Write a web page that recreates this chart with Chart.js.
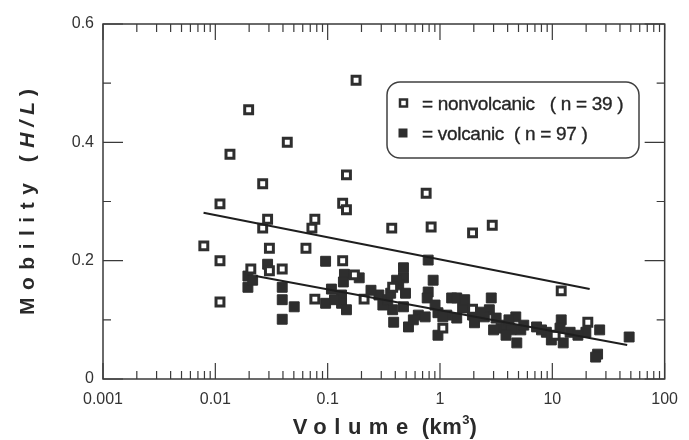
<!DOCTYPE html>
<html><head><meta charset="utf-8">
<script src="https://cdn.jsdelivr.net/npm/chart.js"></script>
<style>html,body{margin:0;padding:0;background:#fff}#wrap{width:689px;height:440px;position:relative}</style>
</head><body><div id="wrap"><canvas id="c" width="689" height="440"></canvas></div>
<script>
// ---- data ----
const xTickValues = [0.001, 0.01, 0.1, 1, 10, 100];
const xTickLabels = ['0.001', '0.01', '0.1', '1', '10', '100'];
const yTickValues = [0, 0.2, 0.4, 0.6];
const yTickLabels = ['0', '0.2', '0.4', '0.6'];
const yMinorValues = [0.1, 0.3, 0.5];
const seriesNames = ['nonvolcanic', 'volcanic'];
const seriesCounts = [39, 97];
const xTitle = 'Volume';
const xUnit = 'km';
const yTitle = 'Mobility';
const yUnit = 'H/L';

const nonVolcanicVolume = [0.0079, 0.011, 0.011, 0.011, 0.0135, 0.0198, 0.0207, 0.0264, 0.0292, 0.0264, 0.0303, 0.0303, 0.0394, 0.0437, 0.0641, 0.0769, 0.0724, 0.0769, 0.136, 0.147, 0.147, 0.136, 0.173, 0.211, 0.179, 0.372, 0.379, 0.753, 0.834, 1.06, 1.95, 1.95, 2.92, 12.0, 20.7, 10.6];
const nonVolcanicMobility = [0.225, 0.296, 0.200, 0.130, 0.380, 0.455, 0.186, 0.330, 0.270, 0.255, 0.221, 0.183, 0.186, 0.400, 0.221, 0.270, 0.255, 0.135, 0.297, 0.286, 0.345, 0.200, 0.176, 0.135, 0.505, 0.255, 0.155, 0.314, 0.257, 0.086, 0.247, 0.118, 0.260, 0.149, 0.096, 0.074];

const volcanicVolume = [0.0195, 0.0195, 0.0215, 0.0292, 0.0394, 0.0394, 0.0504, 0.0394, 0.0959, 0.108, 0.0959, 0.141, 0.138, 0.191, 0.133, 0.133, 0.147, 0.286, 0.310, 0.343, 0.379, 0.387, 0.524, 0.473, 0.473, 0.429, 0.493, 0.473, 0.411, 0.364, 0.785, 0.869, 0.785, 0.769, 0.641, 0.738, 0.959, 1.15, 1.06, 1.27, 1.41, 1.41, 0.959, 1.95, 2.03, 2.86, 2.75, 2.48, 3.16, 3.50, 3.87, 4.29, 4.73, 4.83, 5.24, 3.87, 7.24, 8.85, 9.80, 12.0, 11.7, 14.4, 12.5, 19.9, 26.4, 25.3, 24.3, 48.3, 1.59, 4.11, 5.57, 8.01, 16.9, 1.66, 2.24, 0.904, 0.579, 0.243, 0.115, 3.0];
const volcanicMobility = [0.174, 0.155, 0.167, 0.194, 0.155, 0.134, 0.122, 0.101, 0.199, 0.152, 0.128, 0.177, 0.164, 0.171, 0.142, 0.128, 0.117, 0.142, 0.125, 0.134, 0.117, 0.096, 0.088, 0.188, 0.171, 0.159, 0.145, 0.122, 0.167, 0.145, 0.201, 0.167, 0.147, 0.137, 0.108, 0.105, 0.112, 0.108, 0.105, 0.137, 0.137, 0.103, 0.074, 0.108, 0.095, 0.137, 0.117, 0.105, 0.103, 0.086, 0.091, 0.083, 0.105, 0.061, 0.083, 0.074, 0.088, 0.079, 0.066, 0.100, 0.086, 0.079, 0.061, 0.079, 0.083, 0.042, 0.037, 0.071, 0.120, 0.100, 0.091, 0.083, 0.074, 0.134, 0.113, 0.125, 0.100, 0.150, 0.134, 0.083];

const trendNonVolcanicVolume = [0.00785, 21.5];
const trendNonVolcanicMobility = [0.281, 0.152];
const trendVolcanicVolume = [0.0229, 46.4];
const trendVolcanicMobility = [0.174, 0.0575];

// ---- build ----
const pts = (xs, ys) => xs.map((x, i) => ({x: x, y: ys[i]}));
const INK = '#2e2e2e';
const FONT = "'Liberation Sans', Arial, Helvetica, sans-serif";

function drawSpaced(ctx, parts, x, y, align) {
  let total = 0;
  const widths = parts.map(p => {
    ctx.font = p.font; ctx.letterSpacing = (p.spacing || 0) + 'px';
    const w = ctx.measureText(p.text).width + (p.gap || 0); total += w; return w;
  });
  let cx = align === 'center' ? x - total / 2 : x;
  parts.forEach((p, i) => {
    ctx.font = p.font; ctx.letterSpacing = (p.spacing || 0) + 'px';
    ctx.fillText(p.text, cx, y + (p.dy || 0));
    cx += widths[i];
  });
  ctx.letterSpacing = '0px';
}

const framePlugin = {
  id: 'frame',
  beforeDatasetsDraw(chart) {
    const {ctx, chartArea: a, scales: {x, y}} = chart;
    ctx.save();
    ctx.strokeStyle = '#3a3a3a';
    ctx.lineWidth = 1.5;
    ctx.strokeRect(a.left, a.top, a.right - a.left, a.bottom - a.top);
    ctx.lineWidth = 1.2;
    ctx.beginPath();
    for (let d = 0; d < xTickValues.length; d++) {
      const dec = xTickValues[d];
      const px = x.getPixelForValue(dec);
      ctx.moveTo(px, a.bottom); ctx.lineTo(px, a.bottom - 16);
      ctx.moveTo(px, a.top); ctx.lineTo(px, a.top + 16);
      if (d < xTickValues.length - 1) {
        for (let k = 2; k <= 9; k++) {
          const mx = x.getPixelForValue(dec * k);
          ctx.moveTo(mx, a.bottom); ctx.lineTo(mx, a.bottom - 8);
          ctx.moveTo(mx, a.top); ctx.lineTo(mx, a.top + 8);
        }
      }
    }
    yTickValues.forEach(v => {
      const py = y.getPixelForValue(v);
      ctx.moveTo(a.left, py); ctx.lineTo(a.left + 20, py);
      ctx.moveTo(a.right, py); ctx.lineTo(a.right - 20, py);
    });
    yMinorValues.forEach(v => {
      const py = y.getPixelForValue(v);
      ctx.moveTo(a.left, py); ctx.lineTo(a.left + 8, py);
      ctx.moveTo(a.right, py); ctx.lineTo(a.right - 8, py);
    });
    ctx.stroke();
    ctx.restore();
  },
  afterDraw(chart) {
    const {ctx, chartArea: a} = chart;
    ctx.save();
    ctx.fillStyle = '#2a2a2a';
    ctx.textBaseline = 'alphabetic';
    const bold = 'bold 22px ' + FONT;
    drawSpaced(ctx, [
      {text: xTitle, font: bold, spacing: 7.5, gap: 6},
      {text: '(' + xUnit, font: bold, spacing: 0.5},
      {text: '3', font: 'bold 13px ' + FONT, spacing: 0, dy: -10},
      {text: ')', font: bold, spacing: 0}
    ], (a.left + a.right) / 2 + 1, 434, 'center');
    ctx.save();
    ctx.translate(34, 202);
    ctx.rotate(-Math.PI / 2);
    drawSpaced(ctx, [
      {text: yTitle + ' (', font: 'bold 21px ' + FONT, spacing: 7.5},
      {text: yUnit, font: 'italic bold 21px ' + FONT, spacing: 6},
      {text: ')', font: 'bold 21px ' + FONT, spacing: 0}
    ], 0, 0, 'center');
    ctx.restore();
    // legend box
    const bx = 387, by = 82, bw = 252, bh = 76, r = 13;
    ctx.beginPath();
    ctx.moveTo(bx + r, by);
    ctx.arcTo(bx + bw, by, bx + bw, by + bh, r);
    ctx.arcTo(bx + bw, by + bh, bx, by + bh, r);
    ctx.arcTo(bx, by + bh, bx, by, r);
    ctx.arcTo(bx, by, bx + bw, by, r);
    ctx.closePath();
    ctx.fillStyle = '#fff';
    ctx.fill();
    ctx.strokeStyle = '#404040';
    ctx.lineWidth = 1.5;
    ctx.stroke();
    const ds = chart.data.datasets;
    const entries = [ds[1], ds[2]];
    const rowsY = [103, 133];
    entries.forEach((d, i) => {
      const cy = rowsY[i];
      if (i === 0) {
        ctx.fillStyle = '#fff'; ctx.strokeStyle = INK; ctx.lineWidth = 2.5;
        ctx.fillRect(400, cy - 3.5, 7, 7);
        ctx.strokeRect(400, cy - 3.5, 7, 7);
      } else {
        ctx.fillStyle = INK;
        ctx.fillRect(398.5, cy - 4.5, 9, 9);
      }
      ctx.fillStyle = '#262626';
      ctx.font = '19px ' + FONT;
      ctx.letterSpacing = '-0.3px';
      const label = i === 0
        ? '= ' + d.label + '   ( n = ' + seriesCounts[i] + ' )'
        : '= ' + d.label + '  ( n = ' + seriesCounts[i] + ' )';
      ctx.fillText(label, 422, cy + 7);
      ctx.strokeStyle = '#262626'; ctx.lineWidth = 0.35;
      ctx.strokeText(label, 422, cy + 7);
      ctx.letterSpacing = '0px';
    });
    ctx.restore();
  }
};

new Chart(document.getElementById('c'), {
  type: 'scatter',
  data: {
    datasets: [
      {type: 'line', label: 'trend ' + seriesNames[0], data: pts(trendNonVolcanicVolume, trendNonVolcanicMobility),
       borderColor: '#1e1e1e', borderWidth: 2, pointRadius: 0, fill: false, showLine: true},
      {label: seriesNames[0], data: pts(nonVolcanicVolume, nonVolcanicMobility),
       pointStyle: 'rect', pointRadius: 5.6, borderWidth: 3, borderColor: INK, backgroundColor: '#fff'},
      {label: seriesNames[1], data: pts(volcanicVolume, volcanicMobility),
       pointStyle: 'rect', pointRadius: 7, borderWidth: 1, borderColor: INK, backgroundColor: INK},
      {type: 'line', label: 'trend ' + seriesNames[1], data: pts(trendVolcanicVolume, trendVolcanicMobility),
       borderColor: '#1e1e1e', borderWidth: 2, pointRadius: 0, fill: false, showLine: true, order: -1}
    ]
  },
  options: {
    responsive: false,
    animation: false,
    devicePixelRatio: 1,
    layout: {padding: {top: 24, right: 16, left: 0, bottom: 0}},
    plugins: {legend: {display: false}, tooltip: {enabled: false}, title: {display: false}},
    scales: {
      x: {
        type: 'logarithmic', min: 0.001, max: 100,
        afterBuildTicks: s => { s.ticks = xTickValues.map(v => ({value: v})); },
        afterFit: s => { s.height = 61; },
        grid: {display: false, drawTicks: false},
        border: {display: false},
        ticks: {autoSkip: false, maxRotation: 0, minRotation: 0, padding: 11, color: '#333',
          font: {family: FONT, size: 16}, callback: (v, i) => xTickLabels[i]}
      },
      y: {
        type: 'linear', min: 0, max: 0.6,
        afterBuildTicks: s => { s.ticks = yTickValues.map(v => ({value: v})); },
        afterFit: s => { s.width = 103; },
        grid: {display: false, drawTicks: false},
        border: {display: false},
        ticks: {padding: 9, color: '#333', font: {family: FONT, size: 16}, callback: (v, i) => yTickLabels[i]}
      }
    }
  },
  plugins: [framePlugin]
});
</script>
</body></html>
